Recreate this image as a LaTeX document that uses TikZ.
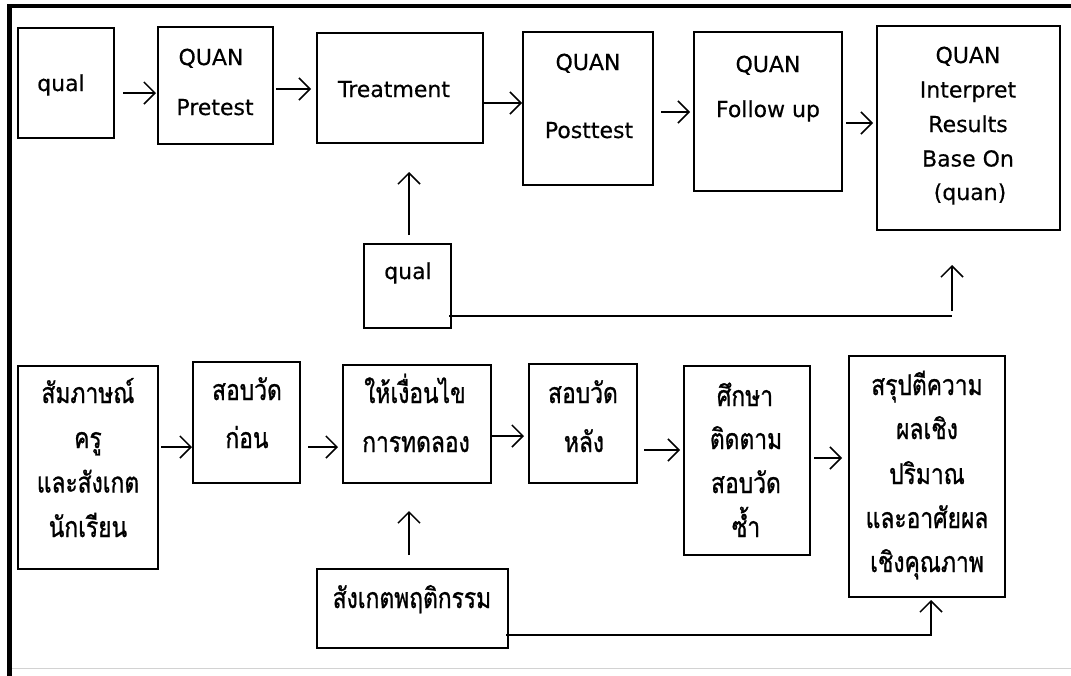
\documentclass[tikz,border=0pt]{standalone}
\usepackage{fontspec}
\setmainfont[FakeBold=0.4]{DejaVu Sans}
\newfontfamily\thaifont[Script=Thai,FakeStretch=0.8,FakeBold=0.9]{Loma}
\usetikzlibrary{arrows.meta}
\begin{document}
\begin{tikzpicture}[x=1pt,y=-1pt,
 box/.style={draw, line width=1.4pt, inner sep=0pt, outer sep=0pt},
 en/.style={anchor=base, inner sep=0pt, font=\fontsize{22}{26}\selectfont},
 th/.style={anchor=base, inner sep=0pt, font=\fontsize{28.5}{30}\selectfont\thaifont},
 arr/.style={line width=1.5pt, -{Straight Barb[length=11pt,width=22pt,line width=1.5pt]}},
 ln/.style={line width=1.4pt}]
\useasboundingbox (0,0) rectangle (1071,675);
% frame
\draw[line width=4.5pt, line join=miter] (9.7,690) -- (9.7,6) -- (1080,6);
\draw[gray!35, line width=1pt] (12,668) -- (1071,668);

% top row boxes
\node[box, minimum width=96pt, minimum height=110pt] (q1) at (66,83) {};
\node[box, minimum width=115pt, minimum height=117pt] (pre) at (215.5,85.5) {};
\node[box, minimum width=166pt, minimum height=110pt] (trt) at (400,88) {};
\node[box, minimum width=130pt, minimum height=153pt] (post) at (588,108.5) {};
\node[box, minimum width=148pt, minimum height=159pt] (fol) at (768,111.5) {};
\node[box, minimum width=183pt, minimum height=204pt] (intp) at (968.5,128) {};
\node[box, minimum width=87pt, minimum height=84pt] (q2) at (407.5,286) {};

% top texts
\node[en] (tq1) at (61,91) {qual};
\node[en] (tpre1) at (211,65) {QUAN};
\node[en] (tpre2) at (215,115) {Pretest};
\node[en] (ttrt) at (394,97) {Treatment};
\node[en] (tpost1) at (588,70) {QUAN};
\node[en] (tpost2) at (589,138) {Posttest};
\node[en] (tfol1) at (768,72) {QUAN};
\node[en] (tfol2) at (768,117) {Follow up};
\node[en] (ti1) at (968,63) {QUAN};
\node[en] (ti2) at (968,97.5) {Interpret};
\node[en] (ti3) at (968,132) {Results};
\node[en] (ti4) at (968,166.5) {Base On};
\node[en] (ti5) at (970,200) {(quan)};
\node[en] (tq2) at (408,279) {qual};

% top arrows
\draw[arr, shorten <=9pt, shorten >=2pt] (q1.east |- 0,93) -- (pre.west |- 0,93);
\draw[arr, shorten <=3pt, shorten >=6pt] (pre.east |- 0,89) -- (trt.west |- 0,89);
\draw[arr, shorten >=1pt] (trt.east |- 0,103) -- (post.west |- 0,103);
\draw[arr, shorten <=8pt, shorten >=4pt] (post.east |- 0,112) -- (fol.west |- 0,112);
\draw[arr, shorten <=4pt, shorten >=4pt] (fol.east |- 0,123) -- (intp.west |- 0,123);
\draw[arr, shorten <=9pt, shorten >=29pt] (q2.north -| 409,0) -- (trt.south -| 409,0);
\coordinate (c1) at (952,316);
\draw[ln] ([xshift=-2pt]q2.east |- c1) -- (c1);
\draw[arr, shorten <=5pt, shorten >=35pt] (c1) -- (c1 |- intp.south);

% bottom row boxes
\node[box, minimum width=140pt, minimum height=203pt] (s1) at (88,467.5) {};
\node[box, minimum width=107pt, minimum height=121pt] (s2) at (246.5,422.5) {};
\node[box, minimum width=148pt, minimum height=118pt] (s3) at (417,424) {};
\node[box, minimum width=108pt, minimum height=119pt] (s4) at (583,423.5) {};
\node[box, minimum width=126pt, minimum height=189pt] (s5) at (747,460.5) {};
\node[box, minimum width=156pt, minimum height=241pt] (s6) at (927,476.5) {};
\node[box, minimum width=191pt, minimum height=79pt] (s7) at (412.5,608.5) {};

% bottom texts
\node[th] (t11) at (88,403) {สัมภาษณ์};
\node[th] (t12) at (88,448) {ครู};
\node[th] (t13) at (88,492.5) {และสังเกต};
\node[th] (t14) at (88,537) {นักเรียน};
\node[th] (t21) at (247,400) {สอบวัด};
\node[th] (t22) at (247,448) {ก่อน};
\node[th] (t31) at (415,403) {ให้เงื่อนไข};
\node[th] (t32) at (416,452) {การทดลอง};
\node[th] (t41) at (583,403) {สอบวัด};
\node[th] (t42) at (584,452) {หลัง};
\node[th] (t51) at (745,406) {ศึกษา};
\node[th] (t52) at (746,449) {ติดตาม};
\node[th] (t53) at (746,493) {สอบวัด};
\node[th] (t54) at (746,537) {ซ้ำ};
\node[th] (t61) at (927,395) {สรุปตีความ};
\node[th] (t62) at (927,439) {ผลเชิง};
\node[th] (t63) at (927,484) {ปริมาณ};
\node[th] (t64) at (927,528) {และอาศัยผล};
\node[th] (t65) at (927,572) {เชิงคุณภาพ};
\node[th] (t7) at (412,608) {สังเกตพฤติกรรม};

% bottom arrows
\draw[arr, shorten <=3pt, shorten >=1pt] (s1.east |- 0,447) -- (s2.west |- 0,447);
\draw[arr, shorten <=8pt, shorten >=5pt] (s2.east |- 0,447) -- (s3.west |- 0,447);
\draw[arr, shorten <=1pt, shorten >=5pt] (s3.east |- 0,436) -- (s4.west |- 0,436);
\draw[arr, shorten <=7pt, shorten >=4pt] (s4.east |- 0,450) -- (s5.west |- 0,450);
\draw[arr, shorten <=4pt, shorten >=7pt] (s5.east |- 0,458) -- (s6.west |- 0,458);
\draw[arr, shorten <=14pt, shorten >=28pt] (s7.north -| 409,0) -- (s3.south -| 409,0);
\coordinate (c2) at (931,635);
\draw[arr, shorten <=-2pt, shorten >=3pt] (s7.east |- c2) -- (c2) -- (c2 |- s6.south);
\end{tikzpicture}
\end{document}
